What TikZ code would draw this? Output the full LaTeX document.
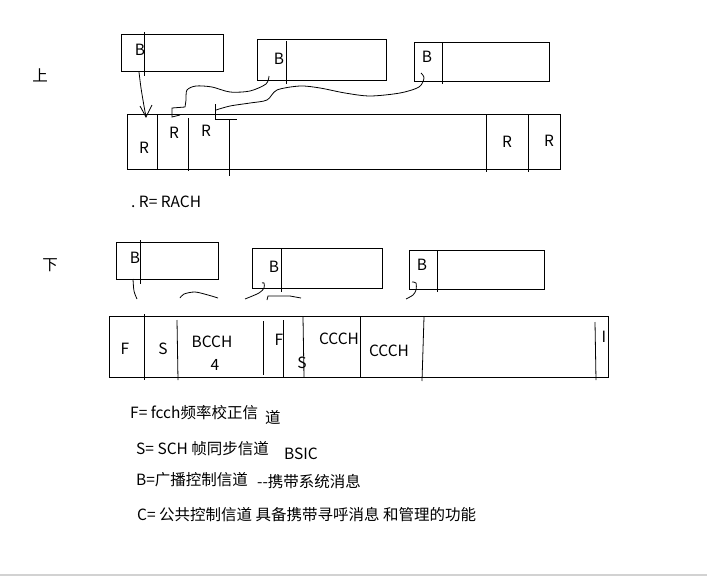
\documentclass[tikz,border=0pt]{standalone}
\usepackage{fontspec}
\setmainfont{Noto Sans CJK SC}
\usetikzlibrary{positioning}

\tikzset{
  frame/.style={draw, line width=0.8pt, anchor=north west, inner sep=0pt},
  lbl/.style={font=\fontsize{15.5}{17}\selectfont, inner sep=0pt},
  txt/.style={lbl, anchor=west},
  pen/.style={line width=0.8pt},
}

\begin{document}
\begin{tikzpicture}[x=1pt,y=-1pt]
\useasboundingbox (0,0) rectangle (707,576);

%% upper part: RACH
\node[lbl] (up) at (40,75) {上};
\node[frame, minimum width=102pt, minimum height=37pt] (b1) at (121,34) {};
\node[frame, minimum width=129pt, minimum height=41pt] (b2) at (257,39) {};
\node[frame, minimum width=135pt, minimum height=39pt] (b3) at (414,42) {};
\node[frame, minimum width=433pt, minimum height=55pt] (rach) at (127,114) {};
\draw[pen] (144,32) -- (144,76);
\draw[pen] (286,41) -- (286,84);
\draw[pen] (442,42) -- (442,84);
\node[lbl] (b1l) at (140,50) {B};
\node[lbl] (b2l) at (279,59) {B};
\node[lbl] (b3l) at (427,57) {B};

\draw[pen] (157,114) -- (157,170);
\draw[pen] (188,118) -- (188,171);
\draw[pen] (215,119) -- (237,119);
\draw[pen] (229,119) -- (229,176);
\draw[pen] (486,114) -- (486,172);
\draw[pen] (528,114) -- (528,172);
\node[lbl] (r1) at (144,148) {R};
\node[lbl] (r2) at (174,133) {R};
\node[lbl] (r3) at (206,131) {R};
\node[lbl] (r4) at (507,142) {R};
\node[lbl] (r5) at (549,141) {R};

\draw[pen] plot[smooth] coordinates {(139,72) (141,88) (144,106) (146,117)};
\draw[pen] (140,106) -- (146,117) -- (152,105);
\draw[pen] plot[smooth] coordinates {(269,76) (266,84) (250,91) (230,92) (212,87) (196,86) (187,90) (186,100) (185,107)};
\draw[pen] (185,107) -- (172,108) -- (172,117) -- (180,115);
\draw[pen] plot[smooth] coordinates {(421,73) (424,78) (419,87) (400,93) (370,96) (345,93) (320,88) (300,86) (277,90) (267,100) (250,103) (230,106) (216,110)};
\draw[pen] (215,104) -- (215,119);

\node[txt] (rdef) at (131,202) {.\ R= RACH};

%% lower part: F, S, BCCH, CCCH
\node[lbl] (down) at (50,265) {下};
\node[frame, minimum width=102pt, minimum height=37pt] (b4) at (116,242) {};
\node[frame, minimum width=130pt, minimum height=40pt] (b5) at (252,248) {};
\node[frame, minimum width=135pt, minimum height=39pt] (b6) at (409,250) {};
\node[frame, minimum width=499pt, minimum height=61pt] (bcch) at (109,316) {};
\draw[pen] (140,240) -- (140,284);
\draw[pen] (281,249) -- (281,292);
\draw[pen] (437,250) -- (437,292);
\node[lbl] (b4l) at (135,258) {B};
\node[lbl] (b5l) at (274,267) {B};
\node[lbl] (b6l) at (422,265) {B};

\draw[pen] plot[smooth] coordinates {(133,279) (134,291) (137,299)};
\draw[pen] plot[smooth] coordinates {(180,298) (184,294) (195,292) (208,295) (218,298)};
\draw[pen] plot[smooth] coordinates {(245,299) (259,293) (264,288) (264,283) (262,283)};
\draw[pen] (267,300) -- (268,296) -- (290,296) -- (301,298);
\draw[pen] plot[smooth] coordinates {(406,299) (413,295) (416,290) (416,283) (412,282)};

\draw[pen] (144,314) -- (144,380);
\draw[pen] (177,320) -- (178,380);
\draw[pen] (263,321) -- (263,375);
\draw[pen] (283,320) -- (283,377);
\draw[pen] (303,317) -- (304,377);
\draw[pen] (360,317) -- (360,377);
\draw[pen] (424,317) -- (422,381);
\draw[pen] (595,322) -- (596,380);
\node[lbl] (f1) at (125,349) {F};
\node[lbl] (s1) at (163,349) {S};
\node[lbl] (bc) at (212,342) {BCCH};
\node[lbl] (n4) at (215,365) {4};
\node[lbl] (f2) at (279,340) {F};
\node[lbl] (s2) at (302,363) {S};
\node[lbl] (c1) at (339,339) {CCCH};
\node[lbl] (c2) at (389,351) {CCCH};
\node[lbl] (i1) at (604,337) {I};

%% legend
\node[txt] (fdef) at (130,413) {F= fcch频率校正信};
\node[txt] (fdef2) at (265,417) {道};
\node[txt] (sdef) at (136,449) {S= SCH 帧同步信道};
\node[txt] (bsic) at (284,454) {BSIC};
\node[txt] (bdef) at (136,480) {B=广播控制信道};
\node[txt] (bdef2) at (257,482) {{-}{-}携带系统消息};
\node[txt] (cdef) at (137,515) {C= 公共控制信道 具备携带寻呼消息 和管理的功能};

\draw[gray!35, line width=1.5pt] (0,575) -- (707,575);
\end{tikzpicture}
\end{document}
